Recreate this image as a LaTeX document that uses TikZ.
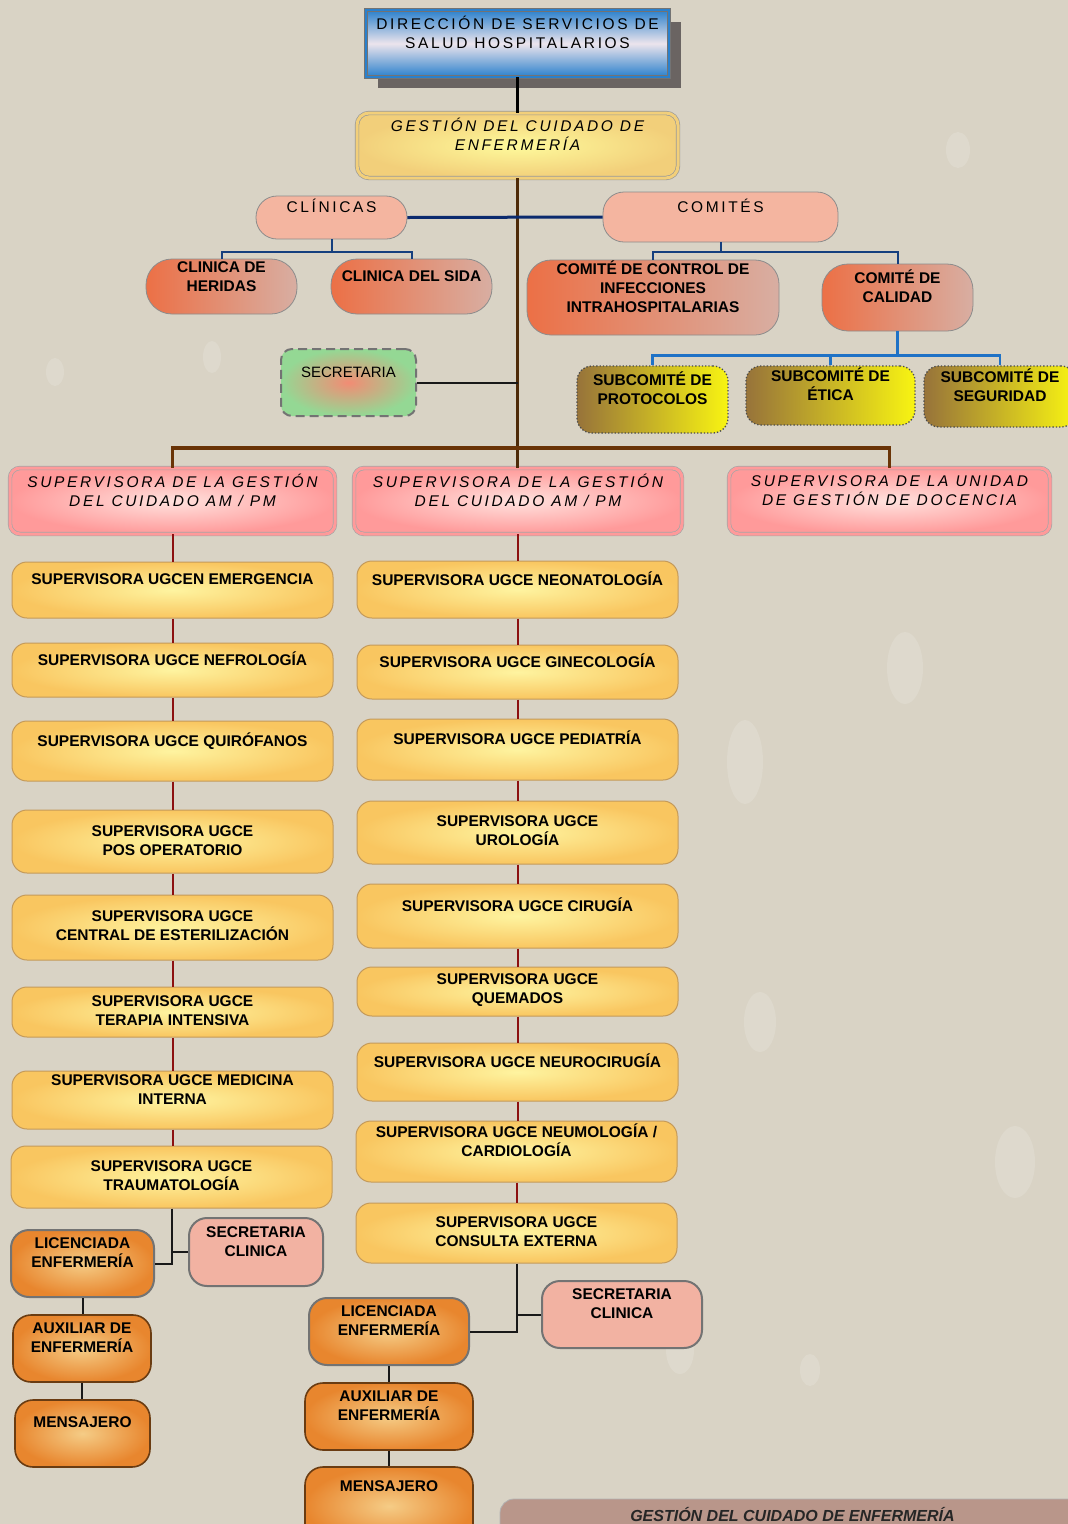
\documentclass[tikz,border=0pt]{standalone}
\usepackage{fontspec}
\setmainfont{Liberation Sans}
\usetikzlibrary{calc}
\definecolor{bgc}{HTML}{D9D3C5}
\definecolor{shadowc}{HTML}{6A6462}
\definecolor{blueA}{HTML}{2A80CC}
\definecolor{blueL}{HTML}{ECE4EC}
\definecolor{gesIn}{HTML}{FEFA9C}
\definecolor{gesOut}{HTML}{F2CF7A}
\definecolor{pillc}{HTML}{F4B5A0}
\definecolor{clinL}{HTML}{EC7046}
\definecolor{clinR}{HTML}{D8AEA2}
\definecolor{subL}{HTML}{97733A}
\definecolor{subR}{HTML}{F8F412}
\definecolor{secIn}{HTML}{F28C74}
\definecolor{secOut}{HTML}{94D894}
\definecolor{supIn}{HTML}{FFE2DE}
\definecolor{supOut}{HTML}{FF9A9A}
\definecolor{yIn}{HTML}{FEF4A0}
\definecolor{yOut}{HTML}{F9C660}
\definecolor{yBord}{HTML}{C49A5A}
\definecolor{oIn}{HTML}{F5CC86}
\definecolor{oOut}{HTML}{E8862E}
\definecolor{oBord}{HTML}{6A3C12}
\definecolor{scc}{HTML}{F2B2A2}
\definecolor{footc}{HTML}{B9968A}
\definecolor{trunkc}{HTML}{4E2A08}
\definecolor{barc}{HTML}{6A3407}
\definecolor{navyc}{HTML}{0B2A6E}
\definecolor{navyt}{HTML}{153F7E}
\definecolor{bluet}{HTML}{1F72C6}
\definecolor{redc}{HTML}{8C1010}
\newcommand{\bx}[9]{%
  \node[#2, minimum width={(#6)-(#4)}, minimum height={(#7)-(#5)}, inner sep=0pt] (#1) at ({((#4)+(#6))/2},{((#5)+(#7))/2}) {};
  \node[#3] (#1t) at ({((#4)+(#6))/2},#8) {#9};
}
\tikzset{
  txt/.style={align=center, inner sep=0pt, text=black},
  sptxt/.style={txt, font=\fontsize{15.5}{19}\selectfont\addfontfeature{LetterSpace=17}},
  spitxt/.style={txt, font=\fontsize{15.5}{19}\selectfont\itshape\addfontfeature{LetterSpace=17}},
  btxt/.style={txt, font=\fontsize{15.5}{19}\selectfont\bfseries},
  ntxt/.style={txt, font=\fontsize{15}{19}\selectfont},
  fttxt/.style={txt, font=\fontsize{16}{19}\selectfont\bfseries\itshape, text=black!85},
  dirbox/.style={draw=black!55, double=blueA, double distance=2.5pt, line width=0.7pt, top color=blueA, bottom color=blueA, middle color=blueL},
  gesbox/.style={rounded corners=12pt, inner color=gesIn, outer color=gesOut, draw=black!40, double=gesOut, double distance=3pt, line width=0.7pt},
  pillbox/.style={rounded corners=21pt, fill=pillc, draw=black!45, line width=0.8pt},
  clinbox/.style={rounded corners=26pt, left color=clinL, right color=clinR, draw=black!45, line width=0.8pt},
  ctrlbox/.style={clinbox, rounded corners=24pt},
  subbox/.style={rounded corners=15pt, left color=subL, right color=subR, draw=black!70, dotted, line width=1.3pt},
  secbox/.style={rounded corners=11pt, inner color=secIn, outer color=secOut, draw=black!55, dash pattern=on 9pt off 5pt, line width=2pt},
  supbox/.style={rounded corners=10pt, inner color=supIn, outer color=supOut, draw=black!35, double=supOut, double distance=3pt, line width=0.7pt},
  ybox/.style={rounded corners=15pt, inner color=yIn, outer color=yOut, draw=yBord, line width=1pt},
  obox/.style={rounded corners=18pt, inner color=oIn, outer color=oOut, draw=oBord, line width=1.6pt},
  licbox/.style={obox, draw=black!55, line width=2pt},
  scbox/.style={rounded corners=18pt, fill=scc, draw=black!55, line width=2pt},
  footbox/.style={rounded corners=14pt, fill=footc, draw=black!30, line width=0.8pt},
  blackline/.style={line width=3.2pt, draw=black},
  trunkline/.style={line width=3pt, draw=trunkc},
  navyline/.style={line width=3pt, draw=navyc},
  navythin/.style={line width=2pt, draw=navyt},
  bluethin/.style={line width=2.2pt, draw=bluet},
  barline/.style={line width=3.5pt, draw=barc},
  redline/.style={line width=2pt, draw=redc},
  darkline/.style={line width=2pt, draw=black!90},
  drop/.style={fill=white, opacity=0.14},
}
\begin{document}
\begin{tikzpicture}[x=1pt,y=-1pt]
\useasboundingbox (0,0) rectangle (1068,1524);
\fill[bgc] (0,0) rectangle (1068,1524);
% faint background droplets
\fill[drop] (905,668) ellipse (18pt and 36pt);
\fill[drop] (745,762) ellipse (18pt and 42pt);
\fill[drop] (760,1022) ellipse (16pt and 30pt);
\fill[drop] (1015,1162) ellipse (20pt and 36pt);
\fill[drop] (212,357) ellipse (9pt and 16pt);
\fill[drop] (55,372) ellipse (9pt and 14pt);
\fill[drop] (958,150) ellipse (12pt and 18pt);
\fill[drop] (680,1350) ellipse (14pt and 24pt);
\fill[drop] (810,1370) ellipse (10pt and 16pt);

% shadow of the top box
\fill[shadowc] (378,22) rectangle (681,88);

\bx{dir}{dirbox}{sptxt}{366}{10}{669}{77}{32.5}{DIRECCIÓN DE SERVICIOS DE\\SALUD HOSPITALARIOS}
\bx{ges}{gesbox}{spitxt}{357}{113}{678}{178}{134.5}{GESTIÓN DEL CUIDADO DE\\ENFERMERÍA}
\bx{cli}{pillbox}{sptxt}{256}{196}{407}{239}{206}{CLÍNICAS}
\bx{com}{pillbox}{sptxt}{603}{192}{838}{242}{206}{COMITÉS}
\bx{her}{clinbox}{btxt}{146}{259}{297}{314}{276.5}{CLINICA DE\\HERIDAS}
\bx{sida}{clinbox}{btxt}{331}{259}{492}{314}{276}{CLINICA DEL SIDA}
\bx{ctl}{ctrlbox}{btxt}{527}{260}{779}{335}{287}{COMITÉ DE CONTROL DE\\INFECCIONES\\INTRAHOSPITALARIAS}
\bx{cal}{clinbox}{btxt}{822}{264}{973}{331}{286.5}{COMITÉ DE\\CALIDAD}
\bx{sp}{subbox}{btxt}{577}{366}{728}{433}{388.5}{SUBCOMITÉ DE\\PROTOCOLOS}
\bx{se}{subbox}{btxt}{746}{366}{915}{425}{384.5}{SUBCOMITÉ DE\\ÉTICA}
\bx{ss}{subbox}{btxt}{924}{366}{1076}{427}{385.5}{SUBCOMITÉ DE\\SEGURIDAD}
\bx{sec}{secbox}{ntxt}{281}{349}{416}{416}{372}{SECRETARIA}

\bx{s1}{supbox}{spitxt}{10}{468}{335}{534}{490.5}{SUPERVISORA DE LA GESTIÓN\\DEL CUIDADO AM / PM}
\bx{s2}{supbox}{spitxt}{354}{468}{682}{534}{490.5}{SUPERVISORA DE LA GESTIÓN\\DEL CUIDADO AM / PM}
\bx{s3}{supbox}{spitxt}{729}{468}{1050}{534}{490.5}{SUPERVISORA DE LA UNIDAD\\DE GESTIÓN DE DOCENCIA}

\bx{l1}{ybox}{btxt}{12}{562}{333}{618}{579}{SUPERVISORA UGCEN EMERGENCIA}
\bx{l2}{ybox}{btxt}{12}{643}{333}{697}{659}{SUPERVISORA UGCE NEFROLOGÍA}
\bx{l3}{ybox}{btxt}{12}{721}{333}{781}{741}{SUPERVISORA UGCE QUIRÓFANOS}
\bx{l4}{ybox}{btxt}{12}{810}{333}{873}{840.5}{SUPERVISORA UGCE\\POS OPERATORIO}
\bx{l5}{ybox}{btxt}{12}{895}{333}{960}{925.5}{SUPERVISORA UGCE\\CENTRAL DE ESTERILIZACIÓN}
\bx{l6}{ybox}{btxt}{12}{987}{333}{1037}{1010.5}{SUPERVISORA UGCE\\TERAPIA INTENSIVA}
\bx{l7}{ybox}{btxt}{12}{1071}{333}{1129}{1089.5}{SUPERVISORA UGCE MEDICINA\\INTERNA}
\bx{l8}{ybox}{btxt}{11}{1146}{332}{1208}{1175.5}{SUPERVISORA UGCE\\TRAUMATOLOGÍA}

\bx{m1}{ybox}{btxt}{357}{561}{678}{618}{579}{SUPERVISORA UGCE NEONATOLOGÍA}
\bx{m2}{ybox}{btxt}{357}{645}{678}{699}{661}{SUPERVISORA UGCE GINECOLOGÍA}
\bx{m3}{ybox}{btxt}{357}{719}{678}{780}{738}{SUPERVISORA UGCE PEDIATRÍA}
\bx{m4}{ybox}{btxt}{357}{801}{678}{864}{830.5}{SUPERVISORA UGCE\\UROLOGÍA}
\bx{m5}{ybox}{btxt}{357}{884}{678}{948}{905}{SUPERVISORA UGCE CIRUGÍA}
\bx{m6}{ybox}{btxt}{357}{967}{678}{1016}{990.5}{SUPERVISORA UGCE\\QUEMADOS}
\bx{m7}{ybox}{btxt}{357}{1043}{678}{1101}{1061}{SUPERVISORA UGCE NEUROCIRUGÍA}
\bx{m8}{ybox}{btxt}{356}{1121}{677}{1182}{1140.5}{SUPERVISORA UGCE NEUMOLOGÍA /\\CARDIOLOGÍA}
\bx{m9}{ybox}{btxt}{356}{1203}{677}{1263}{1231.5}{SUPERVISORA UGCE\\CONSULTA EXTERNA}

\bx{lic1}{licbox}{btxt}{11}{1230}{154}{1297}{1252.5}{LICENCIADA\\ENFERMERÍA}
\bx{sc1}{scbox}{btxt}{189}{1218}{323}{1286}{1241.5}{SECRETARIA\\CLINICA}
\bx{aux1}{obox}{btxt}{13}{1315}{151}{1382}{1337.5}{AUXILIAR DE\\ENFERMERÍA}
\bx{men1}{obox}{btxt}{15}{1400}{150}{1467}{1422}{MENSAJERO}

\bx{lic2}{licbox}{btxt}{309}{1298}{469}{1365}{1320.5}{LICENCIADA\\ENFERMERÍA}
\bx{sc2}{scbox}{btxt}{542}{1281}{702}{1348}{1303.5}{SECRETARIA\\CLINICA}
\bx{aux2}{obox}{btxt}{305}{1383}{473}{1450}{1405.5}{AUXILIAR DE\\ENFERMERÍA}
\bx{men2}{obox}{btxt}{305}{1467}{473}{1545}{1486}{MENSAJERO}

\bx{foot}{footbox}{fttxt}{500}{1499}{1085}{1550}{1514}{GESTIÓN DEL CUIDADO DE ENFERMERÍA}

% connectors
\draw[blackline] (dir.south) -- (dir.south |- ges.north);
\draw[trunkline] (ges.south) -- (ges.south |- s2.north);
\draw[navyline] (cli.east) -- (com.west);
\draw[navythin] (cli.south) -- ++(0,13) -| (her.north);
\draw[navythin] (cli.south) -- ++(0,13) -| (sida.north);
\draw[navythin] (com.south) -- ++(0,10) -| (ctl.north);
\draw[navythin] (com.south) -- ++(0,10) -| (cal.north);
\draw[bluethin] (cal.south) -- ++(0,24) -| (sp.north);
\draw[bluethin] (cal.south) -- ++(0,24) -| (se.north);
\draw[bluethin] (cal.south) -- ++(0,24) -| (ss.north);
\draw[darkline] (sec.east) -- (sec.east -| ges.south);
\coordinate (bar) at (517,448);
\draw[barline] (s1.north) |- (bar) -| (s3.north);

\draw[redline] (s1.south) -- (s1.south |- l1.north);
\draw[redline] (l1.south) -- (l1.south |- l2.north);
\draw[redline] (l2.south) -- (l2.south |- l3.north);
\draw[redline] (l3.south) -- (l3.south |- l4.north);
\draw[redline] (l4.south) -- (l4.south |- l5.north);
\draw[redline] (l5.south) -- (l5.south |- l6.north);
\draw[redline] (l6.south) -- (l6.south |- l7.north);
\draw[redline] (l7.south) -- (l7.south |- l8.north);

\draw[redline] (m1.north |- s2.south) -- (m1.north);
\draw[redline] (m1.south) -- (m1.south |- m2.north);
\draw[redline] (m2.south) -- (m2.south |- m3.north);
\draw[redline] (m3.south) -- (m3.south |- m4.north);
\draw[redline] (m4.south) -- (m4.south |- m5.north);
\draw[redline] (m5.south) -- (m5.south |- m6.north);
\draw[redline] (m6.south) -- (m6.south |- m7.north);
\draw[redline] (m7.south) -- (m7.south |- m8.north);
\draw[redline] (m8.south) -- (m8.south |- m9.north);

\draw[darkline] (l8.south) |- (lic1.east);
\draw[darkline] (sc1.west) -- (sc1.west -| l8.south);
\draw[darkline] (lic1.south) -- (lic1.south |- aux1.north);
\draw[darkline] (aux1.south) -- (aux1.south |- men1.north);

\draw[darkline] (m9.south) |- (lic2.east);
\draw[darkline] (sc2.west) -- (sc2.west -| m9.south);
\draw[darkline] (lic2.south) -- (lic2.south |- aux2.north);
\draw[darkline] (aux2.south) -- (aux2.south |- men2.north);
\end{tikzpicture}
\end{document}
